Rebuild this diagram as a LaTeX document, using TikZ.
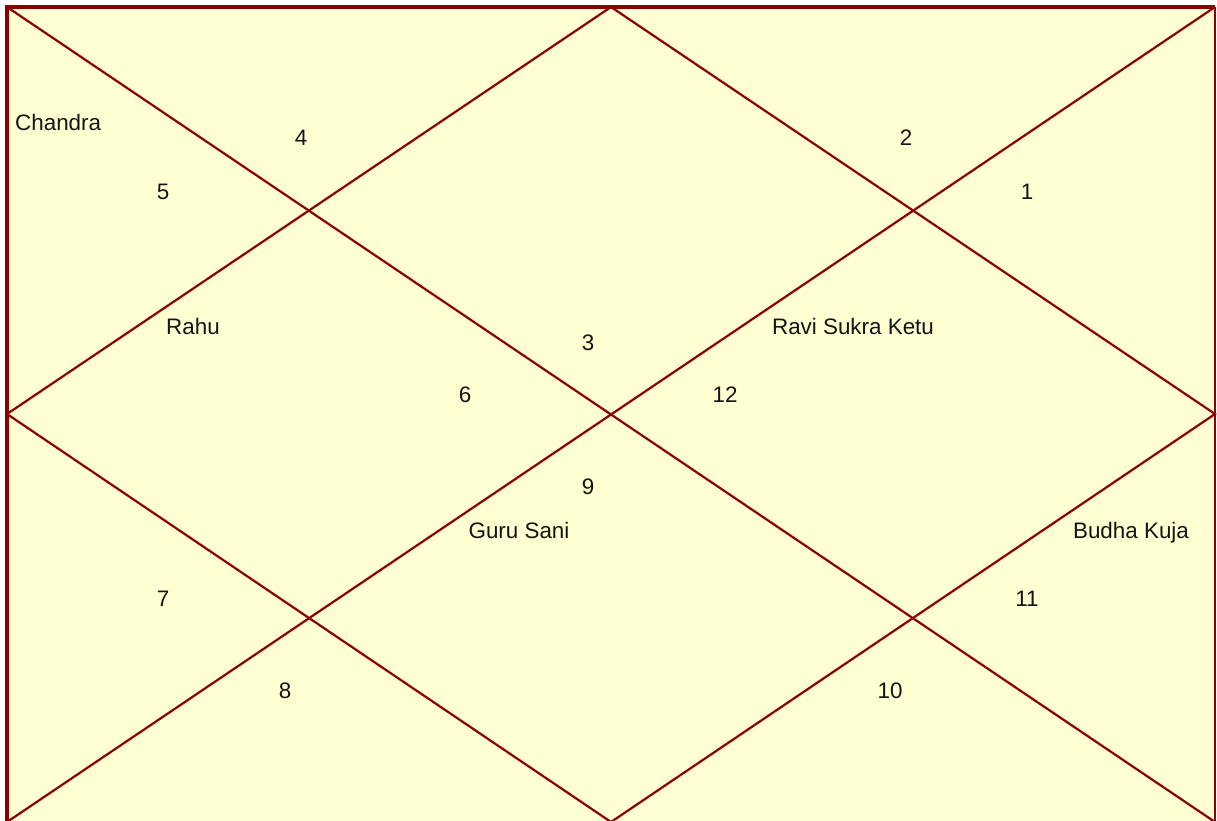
\documentclass[tikz,border=0pt]{standalone}
\usepackage{fontspec}
\setmainfont{Liberation Sans}
\definecolor{chartline}{RGB}{139,0,0}
\definecolor{chartbg}{RGB}{255,255,209}
\definecolor{chartext}{RGB}{20,20,20}
\begin{document}
\begin{tikzpicture}[x=1pt,y=-1pt,
  lbl/.style={anchor=base,inner sep=0pt,text=chartext,font=\fontsize{22.4}{25}\selectfont},
  grid line/.style={draw=chartline,line width=2.2pt}]
\useasboundingbox (0,0) rectangle (1217,821);
\coordinate (TL) at (7,7);
\coordinate (TR) at (1215,7);
\coordinate (BL) at (7,822);
\coordinate (BR) at (1215,822);
\coordinate (T) at (611,7);
\coordinate (R) at (1215,414);
\coordinate (B) at (611,822);
\coordinate (L) at (7,414);
\fill[chartbg] (TL) rectangle (BR);
\draw[grid line] (TL) -- (BR);
\draw[grid line] (TR) -- (BL);
\draw[grid line] (T) -- (R) -- (B) -- (L) -- cycle;
\draw[chartline,line width=3.5pt] (BL) -- (TL) -- (TR);
\draw[chartline,line width=2.5pt] (TR) -- (BR);
\node[lbl,anchor=base west] (chandra) at (15,131) {Chandra};
\node[lbl] (h4) at (301,146) {4};
\node[lbl] (h2) at (906,146) {2};
\node[lbl] (h5) at (163,199) {5};
\node[lbl] (h1) at (1027,199) {1};
\node[lbl] (rahu) at (193,334) {Rahu};
\node[lbl] (h3) at (588,350) {3};
\node[lbl] (ravi) at (853,334) {Ravi Sukra Ketu};
\node[lbl] (h6) at (465,402) {6};
\node[lbl] (h12) at (725,402) {12};
\node[lbl] (h9) at (588,494) {9};
\node[lbl] (guru) at (519,538) {Guru Sani};
\node[lbl] (budha) at (1131,538) {Budha Kuja};
\node[lbl] (h7) at (163,606) {7};
\node[lbl] (h11) at (1027,606) {11};
\node[lbl] (h8) at (285,698) {8};
\node[lbl] (h10) at (890,698) {10};
\end{tikzpicture}
\end{document}
